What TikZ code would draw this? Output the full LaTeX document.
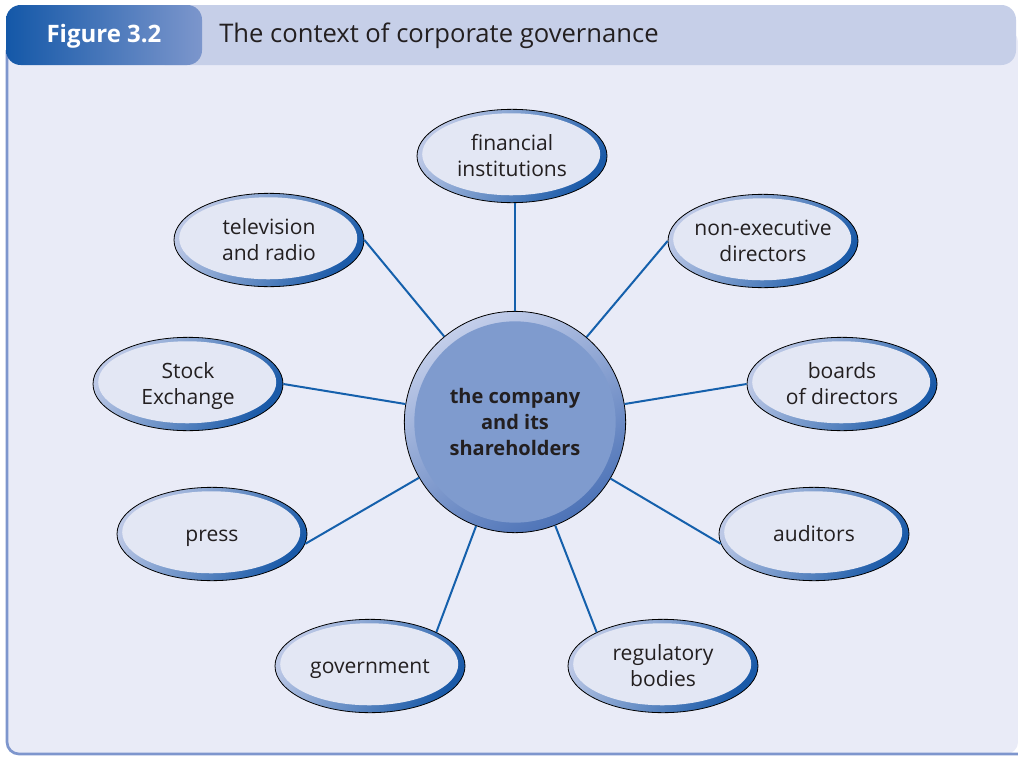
\documentclass[tikz,border=0pt]{standalone}
\usepackage{fontspec}
\setmainfont{Open Sans}
\usetikzlibrary{shapes.geometric}
\definecolor{framefill}{HTML}{E9EBF7}
\definecolor{bandfill}{HTML}{C6CFE8}
\definecolor{borderblue}{HTML}{7E96CD}
\definecolor{tabdark}{HTML}{1458A8}
\definecolor{tablight}{HTML}{7C96CC}
\definecolor{textdark}{HTML}{231F20}
\definecolor{ringlight}{HTML}{BCC8E6}
\definecolor{ringdark}{HTML}{1A5AA8}
\definecolor{innerfill}{HTML}{E3E7F4}
\definecolor{connblue}{HTML}{1560AC}
\definecolor{ctrlight}{HTML}{C3CEEA}
\definecolor{ctrdark}{HTML}{4D73B7}
\definecolor{ctrfill}{HTML}{7F9BCE}
\begin{document}
\begin{tikzpicture}[x=0.75pt,y=-0.75pt,
  ringell/.style={ellipse, draw=black, line width=0.6pt, minimum width=142.5pt,
    minimum height=70pt, inner sep=0pt, top color=ringlight, bottom color=ringdark, shading angle=55},
  innerell/.style={ellipse, fill=innerfill, minimum width=133.5pt, minimum height=61.5pt, inner sep=0pt},
  elltext/.style={align=center, font=\fontsize{15.8}{19.5}\selectfont, text=textdark, inner sep=0pt},
  conn/.style={draw=connblue, line width=1.5pt}
]
\useasboundingbox (0,0) rectangle (1018,757);
\fill[white] (0,0) rectangle (1018,757);
% frame
\fill[framefill, rounded corners=9pt] (7,30) -- (7,754) -- (1018,754) -- (1018,30) -- cycle;
\draw[borderblue, line width=2pt, rounded corners=9pt] (7,50) -- (7,754) -- (1030,754);
% header band and tab
\fill[bandfill, rounded corners=11pt] (150,5) rectangle (1016,65);
\shade[left color=tabdark, right color=tablight, rounded corners=11pt] (6,5) rectangle (202,65);
\node[text=white, font=\bfseries\fontsize{18}{22}\selectfont, inner sep=0pt] (figlabel) at (104,36) {Figure 3.2};
\node[anchor=west, text=textdark, font=\fontsize{19.2}{22}\selectfont, inner sep=0pt] (title) at (219,36) {The context of corporate governance};

% central circle
\node[circle, draw=black, line width=0.6pt, minimum size=166pt, inner sep=0pt,
      top color=ctrlight, bottom color=ctrdark, shading angle=30] (ctr) at (515,422) {};
\node[circle, fill=ctrfill, minimum size=151pt, inner sep=0pt] (ctr-i) at (ctr.center) {};
\node[align=center, font=\bfseries\fontsize{15}{19.5}\selectfont, text=textdark, inner sep=0pt] (ctr-t) at ([yshift=-1.8pt]ctr.center) {\strut the company\\and its\\shareholders\strut};

% outer ellipses
\node[ringell] (fin) at (512,156) {};
\node[ringell] (tv) at (269,240) {};
\node[ringell] (nex) at (763,241) {};
\node[ringell] (stock) at (188,384) {};
\node[ringell] (board) at (842,384) {};
\node[ringell] (press) at (212,534) {};
\node[ringell] (aud) at (814,534) {};
\node[ringell] (gov) at (370,666) {};
\node[ringell] (reg) at (663,666) {};

\foreach \n/\t in {fin/{financial\\institutions}, tv/{television\\and radio}, nex/{non-executive\\directors},
  stock/{Stock\\Exchange}, board/{boards\\of directors}, press/{press}, aud/{auditors},
  gov/{government}, reg/{regulatory\\bodies}}{
  \node[innerell] (\n-i) at ([xshift=-0.6pt,yshift=1.3pt]\n.center) {};
  \node[elltext] (\n-t) at ([yshift=-1.6pt]\n.center) {\strut\t\strut};
}

% connectors
\draw[conn] (ctr) -- (ctr |- fin.south);
\draw[conn] (ctr) -- (tv.east);
\draw[conn] (ctr) -- (nex.west);
\draw[conn] (ctr) -- (stock.east);
\draw[conn] (ctr) -- (board.west);
\draw[conn] (ctr) -- (press.354);
\draw[conn] (ctr) -- (aud.186);
\draw[conn] (ctr) -- (gov.27);
\draw[conn] (ctr) -- (reg.153);
\end{tikzpicture}
\end{document}
